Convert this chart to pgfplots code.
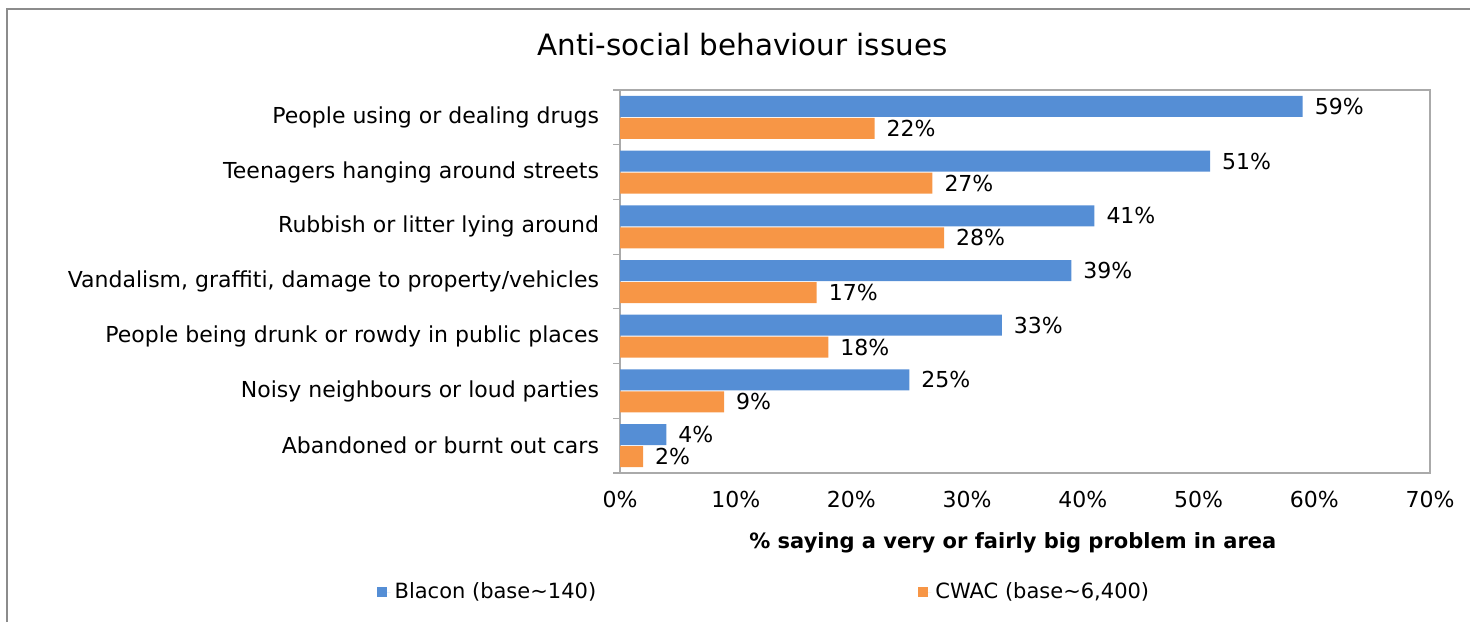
\documentclass[border=0pt]{standalone}
\usepackage{pgfplots}
\pgfplotsset{compat=1.18}
\usepackage{fontspec}
\setmainfont{DejaVu Sans}
\definecolor{blaconblue}{RGB}{85,142,213}
\definecolor{cwacorange}{RGB}{247,150,70}
\definecolor{framegray}{RGB}{140,140,140}
\definecolor{boxgray}{RGB}{170,170,170}
\begin{document}
\begin{tikzpicture}[x=1pt,y=1pt]
\path[use as bounding box] (0,0) rectangle (735,311);
\draw[framegray, line width=0.8pt] (3.5,0) -- (3.5,306.5) -- (735,306.5);
\node[font=\fontsize{14.7}{17}\selectfont] at (371.25,288.5) {Anti-social behaviour issues};
\begin{axis}[
  at={(310pt,74.5pt)}, anchor=south west,
  scale only axis, width=405pt, height=191.5pt,
  xbar, bar width=10.5pt,
  xmin=0, xmax=70, ymin=-0.5, ymax=6.5,
  y dir=reverse,
  point meta=x,
  ytick={0,...,6},
  yticklabels={People using or dealing drugs,
               Teenagers hanging around streets,
               Rubbish or litter lying around,
               {Vandalism, graffiti, damage to property/vehicles},
               People being drunk or rowdy in public places,
               Noisy neighbours or loud parties,
               Abandoned or burnt out cars},
  minor ytick={-0.5,0.5,...,6.5},
  xtick={0,10,...,70},
  xticklabel={\pgfmathprintnumber{\tick}\%},
  /pgf/number format/assume math mode=true,
  major tick length=0pt, minor tick length=3.5pt,
  tick align=outside, tick pos=left,
  minor tick style={boxgray, line width=0.6pt},
  axis line style={boxgray, line width=0.6pt},
  tick label style={font=\fontsize{11}{13}\selectfont},
  yticklabel style={xshift=-7pt},
  xticklabel style={yshift=-5.5pt},
  xlabel={\textbf{\% saying a very or fairly big problem in area}},
  xlabel style={font=\fontsize{10.5}{12}\selectfont, at={(axis description cs:0.485,0)}, yshift=-35pt, anchor=center},
  nodes near coords={\pgfmathprintnumber{\pgfplotspointmeta}\%},
  nodes near coords style={font=\fontsize{11}{13}\selectfont, anchor=west, xshift=2.5pt, black},
  legend columns=2,
  legend style={at={(-0.300,-0.311)}, anchor=west, draw=none, fill=none, inner sep=0pt,
    font=\fontsize{10.5}{12}\selectfont,
    /tikz/every even column/.append style={column sep=159pt}},
]
\addplot[fill=blaconblue, draw=none, bar shift=5.5pt,
  legend image code/.code={\fill[blaconblue] (0pt,-2.4pt) rectangle (4.8pt,2.4pt); \path (0pt,0pt) -- (6.6pt,0pt);}]
  coordinates {(59,0) (51,1) (41,2) (39,3) (33,4) (25,5) (4,6)};
\addplot[fill=cwacorange, draw=none, bar shift=-5.5pt,
  legend image code/.code={\fill[cwacorange] (0pt,-2.4pt) rectangle (4.8pt,2.4pt); \path (0pt,0pt) -- (6.6pt,0pt);}]
  coordinates {(22,0) (27,1) (28,2) (17,3) (18,4) (9,5) (2,6)};
\legend{Blacon (base\textasciitilde 140), {CWAC (base\textasciitilde 6,400)}}
\end{axis}
\end{tikzpicture}
\end{document}
